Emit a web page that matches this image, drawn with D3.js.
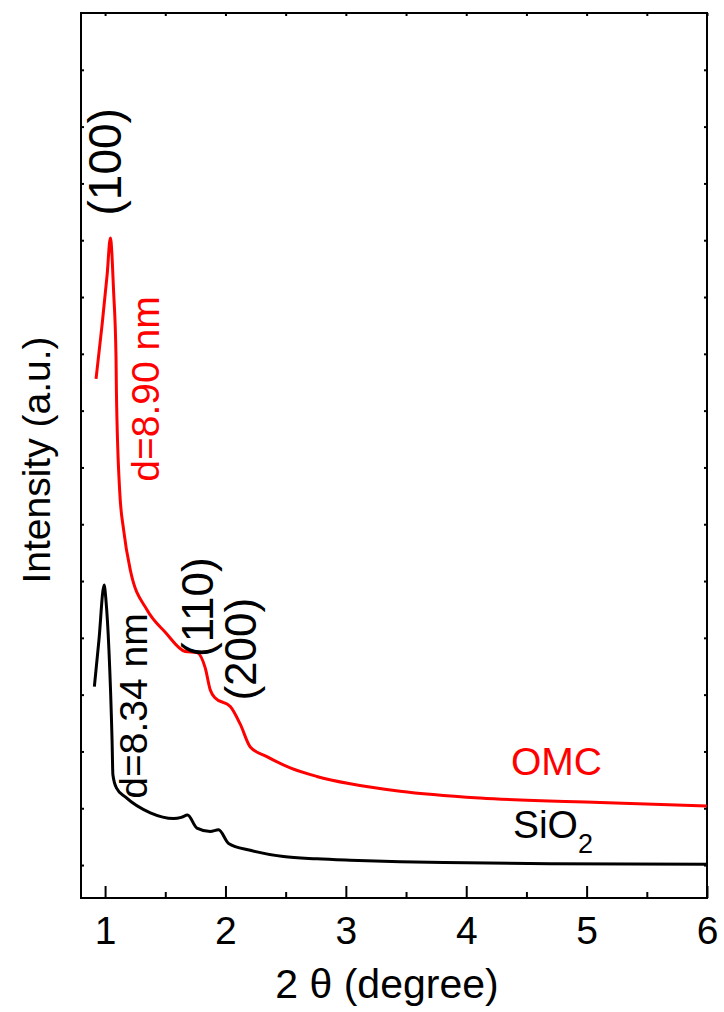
<!DOCTYPE html>
<html>
<head>
<meta charset="utf-8">
<script src="https://cdn.jsdelivr.net/npm/d3@7"></script>
<style>
  body { margin: 0; background: #fff; }
  svg text { font-family: "Liberation Sans", Arial, sans-serif; }
</style>
</head>
<body>
<svg id="chart" width="724" height="1012"></svg>
<script>
// 2-theta (degree) vs intensity (a.u.)
const omcX = [0.925, 0.975, 1.017, 1.044, 1.071, 1.091, 1.094, 1.121, 1.154, 1.210, 1.349, 1.500,
  1.666, 1.763, 1.832, 1.874, 1.915, 2.040, 2.123, 2.206, 2.344, 2.538, 2.759, 3.036, 3.451,
  4.115, 5.111, 5.998];
const omcY = [8.56, 9.51, 10.39, 11.04, 10.09, 8.93, 8.36, 6.60, 5.90, 5.19, 4.49, 4.10,
  3.76, 3.74, 3.47, 3.08, 2.94, 2.79, 2.48, 2.08, 1.91, 1.71, 1.56, 1.43, 1.30,
  1.18, 1.10, 1.04];

const sioX = [0.911, 0.949, 0.992, 1.007, 1.032, 1.058, 1.065, 1.094, 1.168, 1.376, 1.569, 1.633,
  1.685, 1.763, 1.874, 1.943, 2.026, 2.206, 2.482, 2.759, 3.036, 3.451, 4.000, 4.696, 5.998];
const sioY = [3.14, 3.96, 4.93, 4.67, 3.79, 2.20, 1.59, 1.36, 1.20, 0.92, 0.82, 0.84,
  0.88, 0.65, 0.59, 0.62, 0.38, 0.26, 0.15, 0.11, 0.085, 0.058, 0.04, 0.025, 0.012];

const xMajor = [1, 2, 3, 4, 5, 6];
const xMinor = [1.5, 2.5, 3.5, 4.5, 5.5];
const yTicks = d3.range(0, 15);

// peak labels: [text, x, y, colour, font size]
const peakLabels = [
  ['(100)', 1.132, 12.38, 'black', 46],
  ['d=8.90 nm', 1.451, 8.38, 'red', 39],
  ['d=8.34 nm', 1.351, 2.80, 'black', 39],
  ['(110)', 1.895, 4.54, 'black', 44],
  ['(200)', 2.252, 3.80, 'black', 44]
];

const svg = d3.select('#chart');
const margin = { top: 13, right: 17, bottom: 114, left: 81 };
const W = 724, H = 1012;

const x = d3.scaleLinear().domain([0.8, 6]).range([margin.left, W - margin.right]);
const y = d3.scaleLinear().domain([-0.58, 15]).range([H - margin.bottom, margin.top]);

const fs = 39;

// frame
svg.append('rect')
  .attr('x', x(0.8)).attr('y', y(15))
  .attr('width', x(6) - x(0.8)).attr('height', y(-0.58) - y(15))
  .attr('fill', 'none').attr('stroke', 'black').attr('stroke-width', 2);

const bottom = svg.append('g')
  .attr('transform', `translate(0,${y(-0.58)})`)
  .call(d3.axisBottom(x).tickValues(xMajor).tickFormat(d3.format('d'))
    .tickSize(-12).tickSizeOuter(0).tickPadding(18));
bottom.selectAll('text').attr('font-size', fs).attr('fill', 'black')
  .style('font-family', '"Liberation Sans", Arial, sans-serif');

svg.append('g')
  .attr('transform', `translate(0,${y(-0.58)})`)
  .call(d3.axisBottom(x).tickValues(xMinor).tickFormat('').tickSize(-6).tickSizeOuter(0));

svg.append('g')
  .attr('transform', `translate(0,${y(15)})`)
  .call(d3.axisTop(x).tickValues(xMajor.concat(xMinor)).tickFormat('').tickSize(-3).tickSizeOuter(0));

svg.append('g')
  .attr('transform', `translate(${x(0.8)},0)`)
  .call(d3.axisLeft(y).tickValues(yTicks).tickFormat('').tickSize(-3).tickSizeOuter(0));

svg.append('g')
  .attr('transform', `translate(${x(6)},0)`)
  .call(d3.axisRight(y).tickValues(yTicks).tickFormat('').tickSize(-3).tickSizeOuter(0));

svg.selectAll('.domain').remove();
svg.selectAll('.tick line').attr('stroke', 'black').attr('stroke-width', 2);

// curves
const line = d3.line().x(d => x(d[0])).y(d => y(d[1])).curve(d3.curveMonotoneX);

svg.append('path')
  .datum(d3.zip(sioX, sioY))
  .attr('d', line)
  .attr('fill', 'none').attr('stroke', 'black').attr('stroke-width', 3);

svg.append('path')
  .datum(d3.zip(omcX, omcY))
  .attr('d', line)
  .attr('fill', 'none').attr('stroke', 'red').attr('stroke-width', 3);

// rotated peak labels
svg.selectAll('text.peak')
  .data(peakLabels)
  .join('text')
  .attr('class', 'peak')
  .attr('transform', d => `translate(${x(d[1])},${y(d[2])}) rotate(-90)`)
  .attr('text-anchor', 'middle')
  .attr('font-size', d => d[4])
  .attr('fill', d => d[3])
  .text(d => d[0]);

// sample names
svg.append('text')
  .attr('x', x(4.372)).attr('y', y(1.585))
  .attr('font-size', fs).attr('fill', 'red')
  .text('OMC');

const sio = svg.append('text')
  .attr('x', x(4.388)).attr('y', y(0.475))
  .attr('font-size', fs).attr('fill', 'black');
sio.append('tspan').text('SiO');
sio.append('tspan').attr('font-size', 27).attr('dy', 15).text('2');

// axis titles
svg.append('text')
  .attr('x', (x(0.8) + x(6)) / 2 - 7).attr('y', 998)
  .attr('text-anchor', 'middle').attr('font-size', 41)
  .text('2 θ (degree)');

svg.append('text')
  .attr('transform', `translate(50,460) rotate(-90)`)
  .attr('text-anchor', 'middle').attr('font-size', fs)
  .text('Intensity (a.u.)');
</script>
</body>
</html>
